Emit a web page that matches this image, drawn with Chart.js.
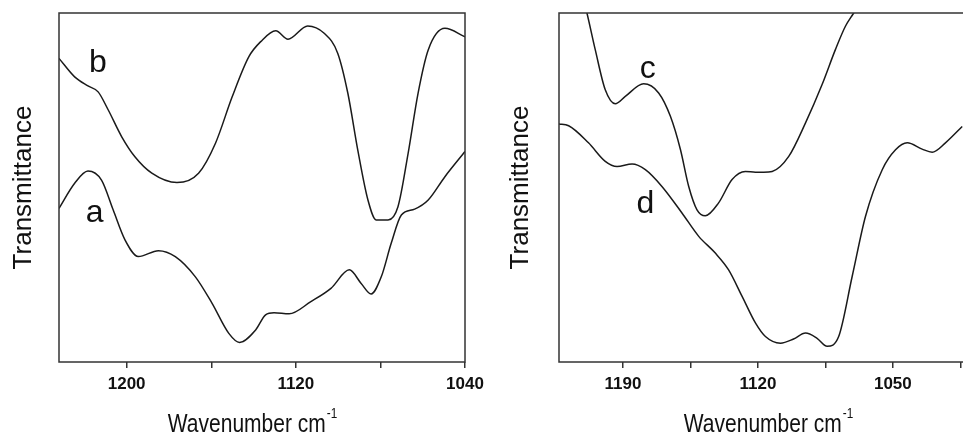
<!DOCTYPE html>
<html>
<head>
<meta charset="utf-8">
<script src="https://cdn.jsdelivr.net/npm/chart.js@4.4.0/dist/chart.umd.min.js"></script>
<style>
  html, body { margin: 0; padding: 0; background: #fff; overflow: hidden; width: 963px; height: 435px; }
  #left-chart { position: absolute; left: 0; top: 0; }
  #right-chart { position: absolute; left: 480px; top: 0; }
</style>
</head>
<body>
<canvas id="left-chart" width="500" height="435"></canvas>
<canvas id="right-chart" width="490" height="435"></canvas>
<script>
// left panel: spectra a and b (wavenumber, transmittance in arbitrary units)
const wnA = [1232, 1224.6, 1218.3, 1211.9, 1206.4, 1200.8, 1194.5, 1185.0, 1177.0, 1167.5, 1159.6, 1151.7, 1146.6, 1139.0, 1134.3, 1130.3, 1123.2, 1112.9, 1103.4, 1094.7, 1089.1, 1084.4, 1079.6, 1074.9, 1070.1, 1063.8, 1057.4, 1049.5, 1040];
const trA = [44.0, 51.2, 54.7, 52.1, 43.6, 35.0, 30.2, 31.9, 30.2, 24.4, 16.8, 8.2, 5.6, 9.2, 13.5, 14.1, 13.8, 17.3, 21.1, 26.4, 22.5, 19.5, 24.4, 34.0, 42.1, 43.8, 46.4, 53.1, 60.3];

const wnB = [1232, 1224.6, 1218.3, 1213.5, 1208.7, 1202.4, 1196.1, 1188.1, 1176.2, 1166.0, 1158.0, 1150.1, 1142.2, 1136.6, 1129.5, 1123.7, 1114.4, 1106.6, 1100.2, 1095.4, 1090.7, 1085.9, 1082.0, 1076.4, 1071.7, 1066.9, 1062.2, 1057.4, 1049.5, 1040];
const trB = [87.0, 81.7, 79.1, 77.4, 72.2, 64.6, 58.8, 54.1, 51.4, 54.1, 62.7, 76.0, 87.5, 91.8, 94.9, 92.5, 96.3, 94.2, 88.5, 77.0, 60.7, 46.4, 40.7, 40.7, 44.5, 59.8, 77.0, 89.4, 95.6, 93.2];

// right panel: spectra c and d
const wnC = [1211.5, 1208.7, 1204.4, 1199.2, 1194.0, 1188.8, 1179.3, 1171.5, 1165.4, 1160.2, 1155.9, 1151.6, 1147.3, 1140.4, 1133.4, 1126.5, 1121.3, 1117.0, 1112.6, 1104.0, 1095.3, 1086.7, 1079.8, 1074.6, 1070.3, 1066];
const trC = [106, 100, 89.5, 78.0, 74.0, 76.1, 79.7, 77.1, 70.4, 60.9, 50.3, 43.6, 41.9, 45.6, 52.3, 54.6, 54.4, 54.4, 54.6, 58.9, 68.5, 79.5, 89.5, 96.2, 100, 104];

const wnD = [1223.4, 1218.2, 1207.9, 1199.2, 1193.1, 1185.3, 1178.4, 1169.8, 1159.4, 1150.7, 1142.1, 1135.2, 1128.2, 1121.3, 1116.1, 1108.3, 1101.5, 1095.3, 1089.3, 1084.1, 1078.1, 1071.1, 1064.2, 1055.5, 1048.6, 1042.5, 1034.8, 1029.6, 1022.7, 1014.0];
const trD = [68.2, 67.7, 62.8, 57.5, 56.0, 56.7, 55.1, 50.3, 42.7, 36.0, 31.2, 26.4, 18.8, 11.2, 7.3, 5.4, 6.6, 8.3, 6.8, 4.5, 7.3, 24.5, 41.7, 55.1, 60.8, 62.8, 61.0, 60.1, 62.8, 67.5];

// curve letters and where they sit (data coords)
const leftLabels = ["a", "b"];
const leftLabelX = [1215.1, 1213.6];
const leftLabelY = [40.1, 83.1];
const rightLabels = ["c", "d"];
const rightLabelX = [1177.1, 1178.4];
const rightLabelY = [81.5, 42.8];

const yTitle = "Transmittance";
const xTitle = "Wavenumber cm";
const xTitleSup = "-1";

const toPoints = (xs, ys) => xs.map((x, i) => ({ x: x, y: ys[i] }));

const regular = "'Liberation Sans', Arial, sans-serif";

const framePlugin = {
  id: "frame",
  afterDatasetsDraw(chart, args, opts) {
    const { ctx, chartArea: a, scales } = chart;
    ctx.save();
    ctx.strokeStyle = "#333";
    ctx.lineWidth = 1.5;
    ctx.strokeRect(a.left, a.top, a.right - a.left, a.bottom - a.top);

    ctx.fillStyle = "#111";
    ctx.font = "32px " + regular;
    ctx.textAlign = "center";
    ctx.textBaseline = "alphabetic";
    opts.labels.forEach((t, i) => {
      ctx.fillText(t, scales.x.getPixelForValue(opts.labelX[i]), scales.y.getPixelForValue(opts.labelY[i]));
    });

    // x title, a bit condensed, with superscript
    const squeeze = 0.84;
    ctx.textAlign = "left";
    ctx.font = "25px " + regular;
    const wMain = ctx.measureText(xTitle).width * squeeze;
    ctx.font = "14px " + regular;
    const wSup = ctx.measureText(xTitleSup).width * squeeze;
    const x0 = opts.titleX - (wMain + wSup) / 2;
    ctx.translate(x0, 0);
    ctx.scale(squeeze, 1);
    ctx.font = "25px " + regular;
    ctx.fillText(xTitle, 0, 432);
    ctx.font = "14px " + regular;
    ctx.fillText(xTitleSup, (wMain + 1) / squeeze, 418);
    ctx.restore();
  },
};

function makeChart(el, sets, xMin, xMax, step, labelBase, labelEvery, yWidth, titlePad, padRight, frameOpts) {
  return new Chart(el, {
    type: "line",
    data: {
      datasets: sets.map((s) => ({
        data: s,
        borderColor: "#1a1a1a",
        borderWidth: 1.5,
        pointRadius: 0,
        fill: false,
        cubicInterpolationMode: "monotone",
      })),
    },
    options: {
      responsive: false,
      animation: false,
      layout: { padding: { top: 13, right: padRight, left: 0, bottom: 0 } },
      plugins: {
        legend: { display: false },
        tooltip: { enabled: false },
        frame: frameOpts,
      },
      scales: {
        x: {
          type: "linear",
          reverse: true,
          min: xMin,
          max: xMax,
          border: { display: false },
          grid: { display: true, drawOnChartArea: false, drawTicks: true, tickLength: 6, color: "#333", lineWidth: 1.5 },
          ticks: {
            stepSize: step,
            includeBounds: false,
            autoSkip: false,
            maxRotation: 0,
            padding: 6,
            color: "#111",
            font: { family: regular, size: 17, weight: "bold" },
            callback: (v) => ((v - labelBase) % labelEvery === 0 ? String(v) : ""),
          },
          afterFit: (scale) => { scale.height = 73; },
        },
        y: {
          min: 0,
          max: 100,
          border: { display: false },
          grid: { display: false },
          ticks: { display: false },
          title: {
            display: true,
            text: yTitle,
            color: "#111",
            font: { family: regular, size: 26 },
            padding: { top: titlePad, bottom: 0 },
          },
          afterFit: (scale) => { scale.width = yWidth; },
        },
      },
    },
    plugins: [framePlugin],
  });
}

const leftChart = makeChart(
  document.getElementById("left-chart"),
  [toPoints(wnA, trA), toPoints(wnB, trB)],
  1040, 1232, 40, 1040, 80, 59, 8, 35,
  { labels: leftLabels, labelX: leftLabelX, labelY: leftLabelY, titleX: 252 }
);

const rightChart = makeChart(
  document.getElementById("right-chart"),
  [toPoints(wnC, trC), toPoints(wnD, trD)],
  1011, 1223.2, 35, 1050, 70, 79, 25, 2,
  { labels: rightLabels, labelX: rightLabelX, labelY: rightLabelY, titleX: 288 }
);
</script>
</body>
</html>
